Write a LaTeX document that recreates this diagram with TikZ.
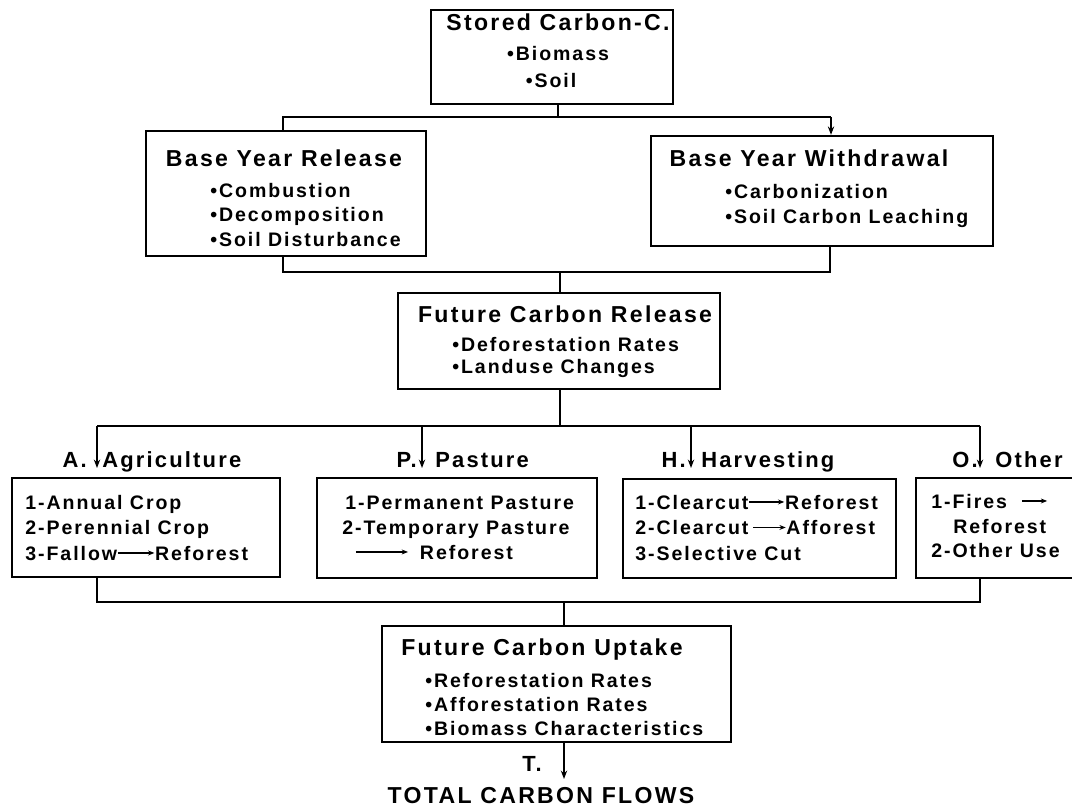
\documentclass[tikz,border=0pt]{standalone}
\usepackage{fontspec}
\setmainfont{Liberation Sans}[LetterSpace=10]
\usetikzlibrary{shapes,arrows.meta,positioning}

\newcommand{\txtarrow}[1]{\tikz[baseline=-5pt]\draw[line width=1pt,-{Stealth[length=4.5pt,width=3.5pt]}] (0pt,0pt) -- (#1,0pt);}

\begin{document}
\begin{tikzpicture}[x=0.025cm,y=-0.025cm,
  box/.style={draw,line width=1.6pt,inner sep=0},
  head/.style={font=\fontsize{16.4}{20}\selectfont\bfseries,inner sep=0,anchor=base},
  item/.style={font=\fontsize{13.9}{18}\selectfont\bfseries,inner sep=0,anchor=base west},
  tag/.style={font=\fontsize{15.6}{19}\selectfont\bfseries,inner sep=0},
  link/.style={line width=1.6pt},
  flow/.style={line width=1.6pt,-{Stealth[length=6pt,width=4.5pt]}}]
\clip (0,0) rectangle (1072,809);

% boxes
       \node [box,minimum width=6.05cm,minimum height=2.35cm]  (stored) at (552,57) {};
       \node [box,minimum width=7cm,minimum height=3.125cm]  (release) at (286,193.5) {};
       \node [box,minimum width=8.55cm,minimum height=2.75cm]  (withdraw) at (822,191) {};
       \node [box,minimum width=8.05cm,minimum height=2.4cm]  (future) at (559,341) {};
       \node [box,minimum width=6.7cm,minimum height=2.475cm]  (agri) at (146,527.5) {};
       \node [box,minimum width=7cm,minimum height=2.5cm]  (past) at (457,528) {};
       \node [box,minimum width=6.825cm,minimum height=2.475cm]  (harv) at (759.5,528.5) {};
       \node [box,minimum width=4.6cm,minimum height=2.5cm]  (other) at (1008,528) {};
       \node [box,minimum width=8.725cm,minimum height=2.9cm]  (uptake) at (556.5,684) {};

% texts
       \node [head] (storedT) at (558,30) {Stored Carbon-C.};
       \node [item,anchor=base] (storedA) at (558,60) {•Biomass};
       \node [item,anchor=base] (storedB) at (551,87) {•Soil};

       \node [head] (releaseT) at (284,166) {Base Year Release};
       \node [item] (releaseA) at (210,197) {•Combustion};
       \node [item] (releaseB) at (210,221.5) {•Decomposition};
       \node [item] (releaseC) at (210,246) {•Soil Disturbance};

       \node [head] (withdrawT) at (809,166) {Base Year Withdrawal};
       \node [item] (withdrawA) at (725,198) {•Carbonization};
       \node [item] (withdrawB) at (725,223) {•Soil Carbon Leaching};

       \node [head] (futureT) at (565,322) {Future Carbon Release};
       \node [item] (futureA) at (452,351) {•Deforestation Rates};
       \node [item] (futureB) at (452,373) {•Landuse Changes};

       \node [tag,anchor=base east] (labA) at (87,467) {A.};
       \node [tag,anchor=base west] (labAgri) at (102,467) {Agriculture};
       \node [tag,anchor=base east] (labP) at (417,467) {P.};
       \node [tag,anchor=base west] (labPast) at (435,467) {Pasture};
       \node [tag,anchor=base east] (labH) at (686,467) {H.};
       \node [tag,anchor=base west] (labHarv) at (701,467) {Harvesting};
       \node [tag,anchor=base east] (labO) at (978,467) {O.};
       \node [tag,anchor=base west] (labOther) at (995,467) {Other};

       \node [item] (agriA) at (25,509) {1-Annual Crop};
       \node [item] (agriB) at (25,534) {2-Perennial Crop};
       \node [item] (agriC) at (25,560) {3-Fallow\txtarrow{26pt}Reforest};

       \node [item] (pastA) at (345,509) {1-Permanent Pasture};
       \node [item] (pastB) at (342,534) {2-Temporary Pasture};
       \node [item] (pastC) at (355,559) {\txtarrow{37pt}\hspace{8pt}Reforest};

       \node [item] (harvA) at (635,509) {1-Clearcut\txtarrow{25pt}Reforest};
       \node [item] (harvB) at (635,534.5) {2-Clearcut\hspace{3pt}\txtarrow{23pt}Afforest};
       \node [item] (harvC) at (635,560) {3-Selective Cut};

       \node [item] (otherA) at (931,508) {1-Fires\hspace{10pt}\txtarrow{18pt}};
       \node [item] (otherB) at (953,533) {Reforest};
       \node [item] (otherC) at (931,557) {2-Other Use};

       \node [head] (uptakeT) at (542,655) {Future Carbon Uptake};
       \node [item] (uptakeA) at (425,687) {•Reforestation Rates};
       \node [item] (uptakeB) at (425,711) {•Afforestation Rates};
       \node [item] (uptakeC) at (425,735) {•Biomass Characteristics};

       \node [tag,anchor=base east] (labT) at (542,771) {T.};
       \node [head] (total) at (541,803) {TOTAL CARBON FLOWS};

% connectors
\coordinate (b1) at (558,117);
\coordinate (b1l) at (283,117);
\coordinate (b1r) at (831,117);
\draw [link] (stored.south -| b1)--(b1) ;
\draw [link] (release.north -| b1l)--(b1l)--(b1r) ;
\draw [flow] (b1r)--(withdraw.north -| b1r) ;

\coordinate (b2) at (560,272);
\coordinate (b2l) at (283,272);
\coordinate (b2r) at (830,272);
\draw [link] (release.south -| b2l)--(b2l)--(b2r)--(withdraw.south -| b2r) ;
\draw [link] (b2)--(future.north -| b2) ;

\coordinate (b3) at (560,426);
\coordinate (b3l) at (97,426);
\coordinate (b3r) at (980,426);
\coordinate (tipA) at (97,468);
\coordinate (tipP) at (422,468);
\coordinate (tipH) at (691,468);
\coordinate (tipO) at (980,468);
\draw [link] (future.south -| b3)--(b3) ;
\draw [link] (b3l)--(b3r) ;
\draw [flow] (b3l)--(tipA) ;
\draw [flow] (b3l -| tipP)--(tipP) ;
\draw [flow] (b3l -| tipH)--(tipH) ;
\draw [flow] (b3r)--(tipO) ;

\coordinate (b4) at (564,602);
\coordinate (b4l) at (97,602);
\coordinate (b4r) at (980,602);
\coordinate (tipT) at (564,779);
\draw [link] (agri.south -| b4l)--(b4l)--(b4r)--(other.south -| b4r) ;
\draw [link] (b4)--(uptake.north -| b4) ;
\draw [flow] (uptake.south -| b4)--(tipT) ;
\end{tikzpicture}
\end{document}
